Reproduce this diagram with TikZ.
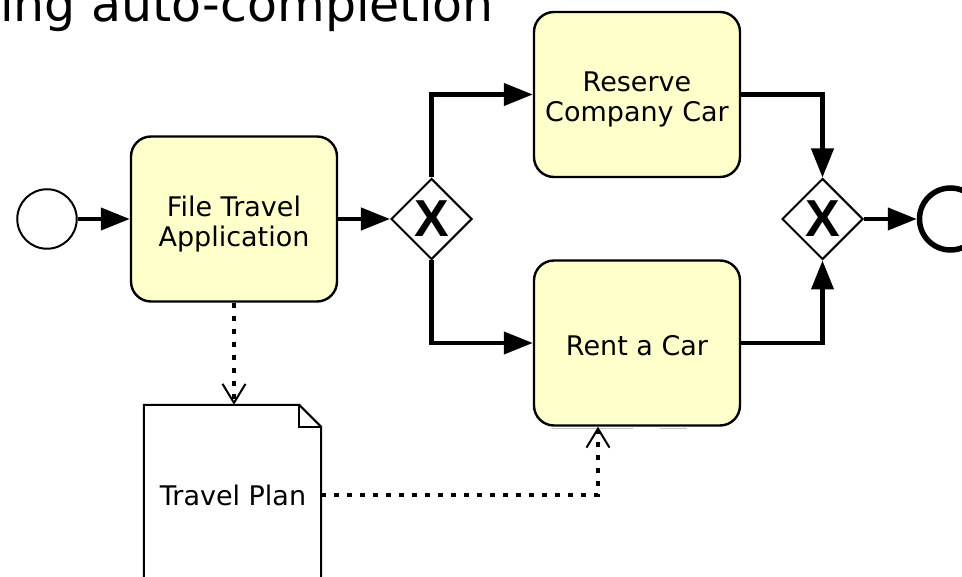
\documentclass[tikz,border=0pt]{standalone}
\usepackage{fontspec}
\setmainfont{DejaVu Sans}
\newfontfamily\xfont{Liberation Sans}
\usetikzlibrary{arrows.meta,shapes.geometric,calc}
\definecolor{taskfill}{HTML}{FFFFCC}
\begin{document}
\begin{tikzpicture}[x=1pt,y=-1pt,
  task/.style={draw, line width=2.4pt, fill=taskfill, rounded corners=20pt,
    minimum width=206pt, minimum height=165pt, inner sep=0pt},
  tasktext/.style={font=\fontsize{27}{30}\selectfont, align=center, inner sep=0pt},
  gateway/.style={draw, diamond, line width=2pt, fill=white, minimum width=81pt,
    minimum height=81pt, inner sep=0pt, font=\xfont\bfseries\fontsize{52}{52}\selectfont},
  startev/.style={draw, circle, line width=2pt, minimum size=59.5pt, inner sep=0pt},
  endev/.style={draw, circle, line width=5.5pt, minimum size=62pt, inner sep=0pt},
  flow/.style={line width=4.2pt, -{Triangle[length=29pt,width=22pt]}},
  assoc/.style={line width=3.5pt, dash pattern=on 5pt off 8pt,
    -{Straight Barb[length=19pt,width=23pt,line width=2pt]}},
  dataobj/.style={line width=2pt},
]
\useasboundingbox (0,0) rectangle (962,577);
\clip (0,0) rectangle (962,577);

% title
\node[font=\fontsize{49}{49}\selectfont, anchor=base east, inner sep=0pt] (title) at (494,22) {ing auto-completion};

% events, tasks, gateways
\node[startev] (start) at (47,219) {};
\node[task] (file) at (234,219) {};
\node[tasktext] (fileT) at ([yshift=-5pt]file.center) {File Travel\\Application};
\node[gateway] (gw1) at (431.5,219) {X};
\node[task] (reserve) at (637,94.5) {};
\node[tasktext] (reserveT) at ([yshift=-5pt]reserve.center) {Reserve\\Company Car};
\node[task] (rent) at (637,343) {};
\node[tasktext] (rentT) at ([yshift=-3pt]rent.center) {Rent a Car};
\node[gateway] (gw2) at (822.5,219) {X};
\node[endev] (end) at (950.5,219) {};

% faint shadow marks under Rent a Car
\draw[gray!45, line width=1.5pt] ([xshift=-85pt,yshift=-2pt]rent.south) -- ([xshift=-4pt,yshift=-2pt]rent.south);
\draw[gray!45, line width=1.5pt] ([xshift=23pt,yshift=-2pt]rent.south) -- ([xshift=50pt,yshift=-2pt]rent.south);

% data object
\node[minimum width=177pt, minimum height=240pt, inner sep=0pt] (plan) at (232.5,525) {};
\draw[dataobj, fill=white] (plan.south west) -- (plan.north west) -- ([xshift=-22pt]plan.north east)
  -- ([yshift=-22pt]plan.north east) -- (plan.south east);
\draw[dataobj, line join=miter] ([xshift=-22pt]plan.north east) -- ([xshift=-22pt,yshift=-22pt]plan.north east)
  -- ([yshift=-22pt]plan.north east);
\node[tasktext] (planT) at (233,495) {Travel Plan};

% sequence flows
\draw[flow] (start) -- (file);
\draw[flow] (file) -- (gw1);
\draw[flow] (gw1.north) |- (reserve.west);
\draw[flow] (gw1.south) |- (rent.west);
\draw[flow] (reserve.east) -| (gw2.north);
\draw[flow] (rent.east) -| (gw2.south);
\draw[flow] (gw2) -- (end);

% associations
\draw[assoc] (file.south) -- (file.south |- plan.north);
\draw[assoc] (plan.east |- planT.center) -| ([xshift=-39pt]rent.south);
\end{tikzpicture}
\end{document}
